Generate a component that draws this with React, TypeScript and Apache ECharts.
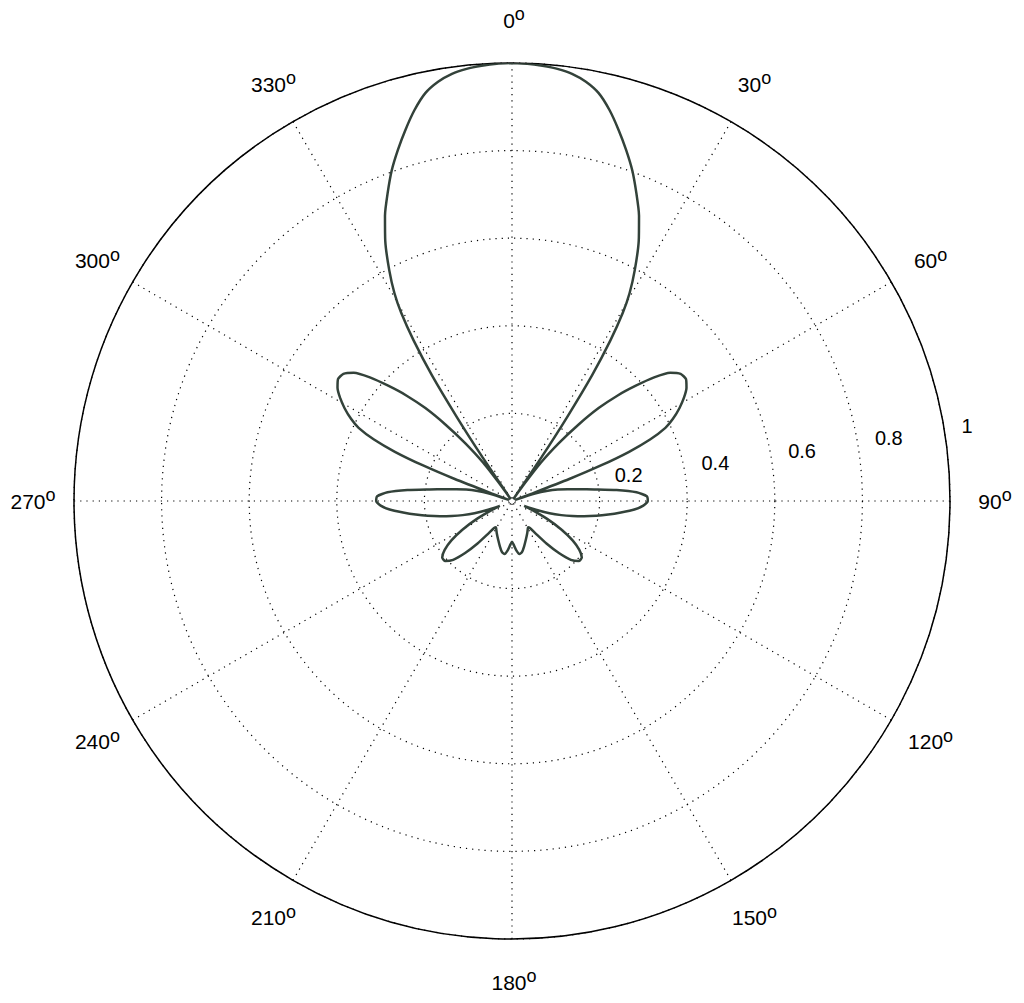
import React, { useEffect, useRef } from "react";
import * as echarts from "echarts";

// Polar axis ticks
const ANGLE_MIN = 0;
const ANGLE_MAX = 360;
const ANGLE_STEP = 30;
const RADIUS_TICKS = [0.2, 0.4, 0.6, 0.8, 1];

// Radiation pattern: angle (deg, clockwise from top) and magnitude
const PATTERN_ANGLES = [
  0, 2, 4, 6, 8, 10, 12, 14, 16, 18, 20, 22, 24, 26, 28, 29.5, 30.5, 31.5, 32.5, 33.3, 34, 34.7,
  35.5, 37, 39, 41, 43, 45, 47, 49, 51, 53, 55, 57, 59, 61, 63, 64.5, 66, 67.2, 68.2, 69, 69.6,
  70.5, 72, 74, 76, 78, 80, 82, 84, 86, 88, 90, 92, 94, 96, 98, 100, 102, 104, 106, 108, 110,
  112, 114, 117, 120, 123, 126, 129, 132, 135, 138, 141, 144, 146.5, 148.5, 151, 155, 160, 165,
  169, 172, 175, 178, 180,
  182, 185, 188, 191, 195, 200, 205, 209, 211.5, 213.5, 216, 219, 222, 225, 228, 231, 234, 237,
  240, 243, 246, 248, 250, 252, 254, 256, 258, 260, 262, 264, 266, 268, 270, 272, 274, 276, 278,
  280, 282, 284, 286, 288, 289.5, 290.4, 291, 291.8, 292.8, 294, 295.5, 297, 299, 301, 303, 305,
  307, 309, 311, 313, 315, 317, 319, 321, 323, 324.5, 325.3, 326, 326.7, 327.5, 328.5, 329.5,
  330.5, 332, 334, 336, 338, 340, 342, 344, 346, 348, 350, 352, 354, 356, 358, 360,
];
const PATTERN_RADII = [
  1.0, 0.999, 0.996, 0.992, 0.985, 0.972, 0.952, 0.92, 0.882, 0.843, 0.803, 0.758, 0.713, 0.66,
  0.597, 0.545, 0.498, 0.43, 0.34, 0.23, 0.12, 0.005,
  0.04, 0.11, 0.17, 0.23, 0.29, 0.34, 0.385, 0.43, 0.465, 0.482, 0.485, 0.475, 0.458, 0.437,
  0.412, 0.388, 0.345, 0.29, 0.22, 0.14, 0.05,
  0.008, 0.055, 0.085, 0.108, 0.13, 0.155, 0.19, 0.24, 0.285, 0.308, 0.31, 0.3, 0.28, 0.25, 0.222,
  0.195, 0.168, 0.142, 0.117, 0.09, 0.058,
  0.03, 0.05, 0.09, 0.13, 0.165, 0.19, 0.205, 0.205, 0.19, 0.16, 0.125, 0.092, 0.074, 0.07,
  0.074, 0.082, 0.093, 0.107, 0.119, 0.122, 0.113, 0.099, 0.093,
  0.099, 0.113, 0.122, 0.119, 0.107, 0.093, 0.082, 0.074, 0.07, 0.074, 0.092, 0.125, 0.16, 0.19,
  0.205, 0.205, 0.19, 0.165, 0.13, 0.09, 0.05, 0.03,
  0.058, 0.09, 0.117, 0.142, 0.168, 0.195, 0.222, 0.25, 0.28, 0.3, 0.31, 0.308, 0.285, 0.24,
  0.19, 0.155, 0.13, 0.108, 0.085, 0.055, 0.008,
  0.05, 0.14, 0.22, 0.29, 0.345, 0.388, 0.412, 0.437, 0.458, 0.475, 0.485, 0.482, 0.465, 0.43,
  0.385, 0.34, 0.29, 0.23, 0.17, 0.11, 0.04,
  0.005, 0.12, 0.23, 0.34, 0.43, 0.498, 0.545, 0.597, 0.66, 0.713, 0.758, 0.803, 0.843, 0.882,
  0.92, 0.952, 0.972, 0.985, 0.992, 0.996, 0.999, 1.0,
];

const CX = 512;
const CY = 501;
const R = 438;
const LABEL_R = 481;
const FONT = "'Liberation Sans', Arial, Helvetica, sans-serif";

export default function App() {
  const ref = useRef<HTMLDivElement>(null);

  useEffect(() => {
    if (!ref.current) return;
    const chart = echarts.init(ref.current, null, { renderer: "svg" });
    const data = PATTERN_ANGLES.map((a, i) => [PATTERN_RADII[i], a]);
    const dotted = { color: "#000", width: 1.2, type: [1.2, 5] };

    const radialLabels = RADIUS_TICKS.map((t) => ({
      type: "text",
      x: CX + 16 + t * R * 0.99,
      y: CY - 13.6 - t * R * 0.14,
      silent: true,
      style: {
        text: String(t),
        fill: "#000",
        fontSize: 20,
        fontFamily: FONT,
        align: "left",
        verticalAlign: "middle",
        textAlign: "left",
        textVerticalAlign: "middle",
      },
    }));

    const angleTicks: number[] = [];
    for (let a = ANGLE_MIN; a < ANGLE_MAX; a += ANGLE_STEP) angleTicks.push(a);
    const angleLabels = angleTicks.map((a) => {
      const rad = (a * Math.PI) / 180;
      return {
        type: "text",
        x: CX + 2 + LABEL_R * Math.sin(rad),
        y: CY - LABEL_R * Math.cos(rad),
        silent: true,
        style: {
          text: `{n|${a}}{d|o}`,
          align: "center",
          verticalAlign: "middle",
          textAlign: "center",
          textVerticalAlign: "middle",
          fill: "#000",
          rich: {
            n: { fontSize: 21, lineHeight: 30, fontFamily: FONT, fill: "#000", color: "#000" },
            d: {
              fontSize: 18,
              lineHeight: 12,
              verticalAlign: "top",
              fontFamily: FONT,
              fill: "#000",
              color: "#000",
            },
          },
        },
      };
    });

    chart.setOption({
      animation: false,
      backgroundColor: "#ffffff",
      polar: { center: [CX, CY], radius: R },
      angleAxis: {
        type: "value",
        min: ANGLE_MIN,
        max: ANGLE_MAX,
        interval: ANGLE_STEP,
        startAngle: 90,
        clockwise: true,
        axisLine: { show: true, lineStyle: { color: "#000", width: 1.5 } },
        axisTick: { show: false },
        splitLine: { show: true, lineStyle: dotted },
        axisLabel: { show: false },
      },
      radiusAxis: {
        type: "value",
        min: 0,
        max: 1,
        interval: 0.2,
        axisLine: { show: false },
        axisTick: { show: false },
        axisLabel: { show: false },
        splitLine: { show: true, lineStyle: dotted },
      },
      series: [
        {
          type: "line",
          coordinateSystem: "polar",
          data,
          showSymbol: false,
          symbol: "none",
          smooth: 0.2,
          lineStyle: { color: "#33423a", width: 2.5 },
        },
      ],
      graphic: [...angleLabels, ...radialLabels],
    });

    return () => chart.dispose();
  }, []);

  return (
    <div
      ref={ref}
      style={{ position: "absolute", left: 0, top: 0, width: 1024, height: 1003 }}
    />
  );
}
